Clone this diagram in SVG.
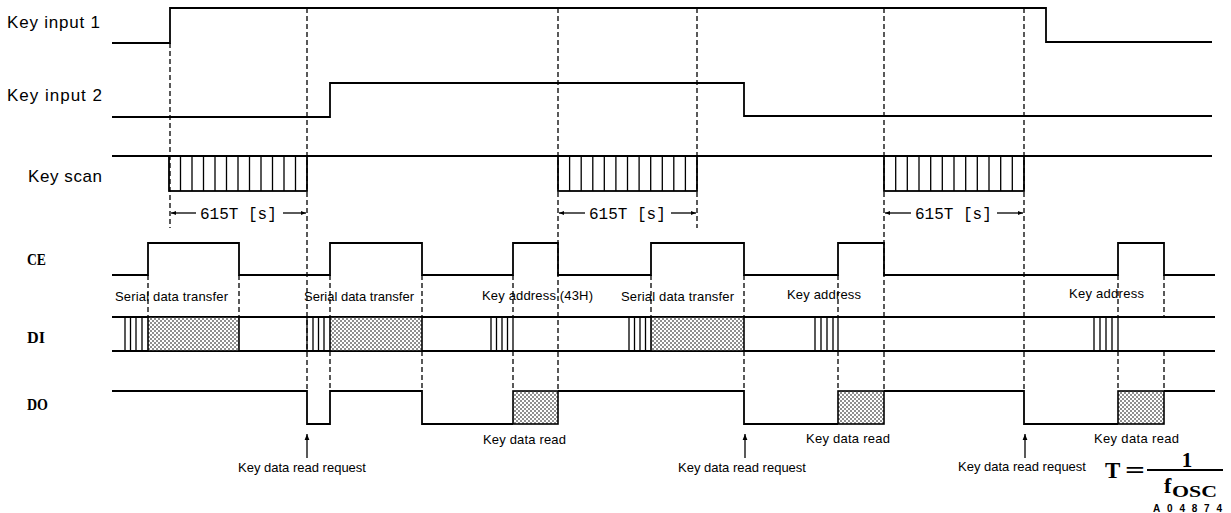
<svg xmlns="http://www.w3.org/2000/svg" width="1231" height="513" viewBox="0 0 1231 513">
<style>
.w{fill:none;stroke:#000;stroke-width:1.8;stroke-linejoin:miter}
.t{fill:none;stroke:#000;stroke-width:1.3}
.d{fill:none;stroke:#000;stroke-width:1.3;stroke-dasharray:5,3}
.lbl{font-family:"Liberation Sans",Arial,sans-serif;font-size:17px;fill:#000}
.sm{font-family:"Liberation Sans",Arial,sans-serif;font-size:13px;fill:#000}
.sig{font-family:"Liberation Serif","Times New Roman",serif;font-weight:bold;font-size:17px;fill:#000}
.dim{font-family:"Liberation Mono","DejaVu Sans Mono",monospace;font-size:16px;fill:#000}
.fx{font-family:"Liberation Serif","Times New Roman",serif;font-weight:bold;fill:#000}
.dot{fill:url(#dots);stroke:#000;stroke-width:1.6}
</style>
<defs>
<pattern id="dots" width="4" height="4" patternUnits="userSpaceOnUse">
<rect width="4" height="4" fill="#fff"/>
<circle cx="1" cy="1" r="0.8" fill="#000"/>
<circle cx="3" cy="3" r="0.8" fill="#000"/>
</pattern>
<marker id="ah" viewBox="0 0 10 10" refX="10" refY="5" markerWidth="7" markerHeight="5" orient="auto" markerUnits="userSpaceOnUse">
<path d="M0,1 L10,5 L0,9 Z" fill="#000"/>
</marker>
<marker id="up" viewBox="0 0 10 10" refX="10" refY="5" markerWidth="10" markerHeight="6" orient="auto" markerUnits="userSpaceOnUse">
<path d="M0,1 L10,5 L0,9 Z" fill="#000"/>
</marker>
</defs>

<g id="labels">
<text class="lbl" x="7" y="28" textLength="93">Key input 1</text>
<text class="lbl" x="7" y="101" textLength="95">Key input 2</text>
<text class="lbl" x="28" y="182" textLength="74">Key scan</text>
<text class="sig" x="27" y="265" textLength="19" lengthAdjust="spacingAndGlyphs">CE</text>
<text class="sig" x="27" y="343" textLength="18" lengthAdjust="spacingAndGlyphs">DI</text>
<text class="sig" x="27" y="410" textLength="21" lengthAdjust="spacingAndGlyphs">DO</text>
</g>

<g id="key-input-1">
<path class="w" d="M112,43 H170 V8 H1046 V42 H1212"/>
</g>

<g id="key-input-2">
<path class="w" d="M112,117 H330 V83 H744 V116 H1212"/>
</g>

<g id="key-scan">
<path class="w" d="M112,156 H1212"/>
<rect class="w" x="169" y="156" width="138" height="35"/>
<path class="t" d="M180.5,156V191M192,156V191M203.5,156V191M215,156V191M226.5,156V191M238,156V191M249.5,156V191M261,156V191M272.5,156V191M284,156V191M295.5,156V191"/>
<rect class="w" x="558" y="156" width="139" height="35"/>
<path class="t" d="M569.6,156V191M581.2,156V191M592.8,156V191M604.3,156V191M615.9,156V191M627.5,156V191M639.1,156V191M650.7,156V191M662.3,156V191M673.8,156V191M685.4,156V191"/>
<rect class="w" x="884" y="156" width="140" height="35"/>
<path class="t" d="M895.7,156V191M907.3,156V191M919,156V191M930.7,156V191M942.3,156V191M954,156V191M965.7,156V191M977.3,156V191M989,156V191M1000.7,156V191M1012.3,156V191"/>
</g>

<g id="scan-time">
<path class="t" d="M196,213 H171" marker-end="url(#ah)"/>
<path class="t" d="M283,213 H306" marker-end="url(#ah)"/>
<text class="dim" x="200" y="219">615T [s]</text>
<path class="t" d="M585,213 H559" marker-end="url(#ah)"/>
<path class="t" d="M671,213 H696" marker-end="url(#ah)"/>
<text class="dim" x="589" y="219">615T [s]</text>
<path class="t" d="M911,213 H885" marker-end="url(#ah)"/>
<path class="t" d="M997,213 H1023" marker-end="url(#ah)"/>
<text class="dim" x="915" y="219">615T [s]</text>
</g>

<g id="ce">
<path class="w" d="M112,275 H148 V243 H239 V275 H330 V243 H422 V275 H513 V243 H558 V275 H651 V243 H744 V275 H838 V243 H884 V275 H1118 V243 H1164 V275 H1215"/>
<text class="sm" x="115" y="301" textLength="113">Serial data transfer</text>
<text class="sm" x="304" y="301" textLength="110">Serial data transfer</text>
<text class="sm" x="482" y="300" textLength="111">Key address (43H)</text>
<text class="sm" x="621" y="301" textLength="113">Serial data transfer</text>
<text class="sm" x="787" y="299" textLength="74">Key address</text>
<text class="sm" x="1069" y="298" textLength="75">Key address</text>
</g>

<g id="di">
<path class="w" d="M112,317 H1215 M112,351 H1215"/>
<path class="t" d="M125,317V351M130.5,317V351M136,317V351M142,317V351"/>
<rect class="dot" x="148" y="317" width="91" height="34"/>
<path class="t" d="M307,317V351M313,317V351M318.5,317V351M324,317V351"/>
<rect class="dot" x="330" y="317" width="92" height="34"/>
<path class="t" d="M491,317V351M496.5,317V351M502,317V351M507.5,317V351M513,317V351"/>
<path class="t" d="M629,317V351M634.5,317V351M640,317V351M645.5,317V351"/>
<rect class="dot" x="651" y="317" width="93" height="34"/>
<path class="t" d="M815,317V351M821,317V351M827,317V351M833,317V351M838,317V351"/>
<path class="t" d="M1094,317V351M1100,317V351M1106,317V351M1112,317V351M1118,317V351"/>
</g>

<g id="do">
<path class="w" d="M112,391 H307 V424 H330 V391 H422 V424 H513 M558,391 H744 V424 H838 M884,391 H1024 V424 H1118 M1164,391 H1215"/>
<rect class="dot" x="513" y="391" width="45" height="33"/>
<rect class="dot" x="838" y="391" width="46" height="33"/>
<rect class="dot" x="1118" y="391" width="46" height="33"/>
<text class="sm" x="483" y="444" textLength="83">Key data read</text>
<text class="sm" x="806" y="443" textLength="84">Key data read</text>
<text class="sm" x="1094" y="443" textLength="85">Key data read</text>
</g>

<g id="connectors">
<path class="d" d="M170,43 V228"/>
<path class="d" d="M307,8 V391"/>
<path class="d" d="M558,8 V391"/>
<path class="d" d="M697,8 V228"/>
<path class="d" d="M884,8 V391"/>
<path class="d" d="M1024,8 V391"/>
<path class="d" d="M148,275 V317 M239,275 V317 M651,275 V317"/>
<path class="d" d="M330,275 V317 M330,351 V391 M422,275 V317 M422,351 V391 M513,275 V317 M513,351 V391 M744,275 V317 M744,351 V391 M838,275 V317 M838,351 V391 M1118,275 V317 M1118,351 V391 M1164,275 V317 M1164,351 V391"/>
<path class="t" d="M307,458 V434" marker-end="url(#up)"/>
<path class="t" d="M745,458 V434" marker-end="url(#up)"/>
<path class="t" d="M1025,458 V434" marker-end="url(#up)"/>
</g>

<g id="requests">
<text class="sm" x="302" y="472" text-anchor="middle">Key data read request</text>
<text class="sm" x="742" y="472" text-anchor="middle">Key data read request</text>
<text class="sm" x="1022" y="471" text-anchor="middle">Key data read request</text>
</g>

<g id="formula">
<text class="fx" x="1105" y="478" font-size="23">T</text>
<text class="fx" x="1125" y="478" font-size="23" textLength="20" lengthAdjust="spacingAndGlyphs">=</text>
<path d="M1147,470 H1223" stroke="#000" stroke-width="1.8"/>
<text class="fx" x="1187" y="467" text-anchor="middle" font-size="21">1</text>
<text class="fx" x="1164" y="493" font-size="22">f</text>
<text class="fx" x="1172" y="497" font-size="16" textLength="45" lengthAdjust="spacingAndGlyphs">OSC</text>
<text x="1153" y="512" font-family="Liberation Sans,Arial,sans-serif" font-weight="bold" font-size="10" textLength="69">A04874</text>
</g>
</svg>
